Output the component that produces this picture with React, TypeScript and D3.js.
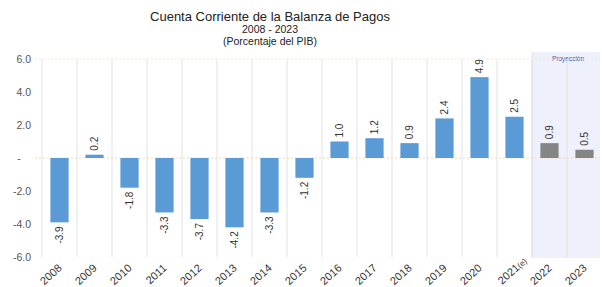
import React from "react";
import * as d3 from "d3";

const years = ["2008", "2009", "2010", "2011", "2012", "2013", "2014", "2015", "2016", "2017", "2018", "2019", "2020", "2021(e)", "2022", "2023"];
const values = [-3.9, 0.2, -1.8, -3.3, -3.7, -4.2, -3.3, -1.2, 1.0, 1.2, 0.9, 2.4, 4.9, 2.5, 0.9, 0.5];
const projected = ["2022", "2023"];
const yTicks = [6, 4, 2, 0, -2, -4, -6];

const W = 602;
const H = 287;

// hyphen minus like the original, not d3's unicode minus
const fmt = (v: number) => v.toFixed(1);

const App = () => {
  const x = d3.scaleBand<string>().domain(years).range([42, 602]).padding(0);
  const y = d3.scaleLinear().domain([-6, 6]).range([257, 59]);
  const bw = x.bandwidth() * 0.52;
  const projStart = x(projected[0]) as number;

  return (
    <div style={{ position: "fixed", left: 0, top: 0 }}>
      <svg width={W} height={H} style={{ display: "block", background: "#fff" }} fontFamily="Liberation Sans, Arial, sans-serif">
        {/* projection shading */}
        <rect x={projStart} y={52} width={W - projStart - 2} height={206} fill="#eef0fb" />
        <line x1={projStart} x2={projStart} y1={52} y2={258} stroke="#dde0ee" />
        <text x={projStart + 36} y={61} fontSize={6.5} fill="#3a55a4" textAnchor="middle">Proyección</text>

        {/* title */}
        <text x={270} y={21} textAnchor="middle" fontSize={13} fill="#222">Cuenta Corriente de la Balanza de Pagos</text>
        <text x={270} y={33} textAnchor="middle" fontSize={10.5} fill="#222">2008 - 2023</text>
        <text x={270} y={45} textAnchor="middle" fontSize={10.5} fill="#222">(Porcentaje del PIB)</text>

        {/* vertical gridlines */}
        {years.map((yr) => (
          <line key={yr} x1={x(yr)} x2={x(yr)} y1={y(6)} y2={y(-6)} stroke="#e3e3e3" strokeWidth={1} />
        ))}
        <line x1={35} x2={600} y1={y(6)} y2={y(6)} stroke="#f8e6d2" strokeDasharray="2,2" />
        <line x1={35} x2={600} y1={y(0)} y2={y(0)} stroke="#f4d6b4" strokeDasharray="2,2" />

        {/* y tick labels */}
        {yTicks.map((t) => (
          <text key={t} x={t === 0 ? 19 : 31} y={y(t) + 4} textAnchor={t === 0 ? "middle" : "end"} fontSize={10.5} fill="#555">
            {t === 0 ? "-" : fmt(t)}
          </text>
        ))}

        {/* bars */}
        {years.map((yr, i) => {
          const v = values[i];
          const cx = (x(yr) as number) + x.bandwidth() / 2;
          const isProj = projected.includes(yr);
          return (
            <rect
              key={yr}
              x={cx - bw / 2}
              y={Math.min(y(v), y(0))}
              width={bw}
              height={Math.abs(y(v) - y(0))}
              fill={isProj ? "#858585" : "#5b9bd5"}
            />
          );
        })}

        {/* value labels */}
        {years.map((yr, i) => {
          const v = values[i];
          const cx = (x(yr) as number) + x.bandwidth() / 2;
          const ly = v >= 0 ? y(v) - 4 : y(v) + 4;
          return (
            <text
              key={yr}
              transform={`translate(${cx + 3.5},${ly}) rotate(-90)`}
              textAnchor={v >= 0 ? "start" : "end"}
              fontSize={10}
              fill="#333"
            >
              {fmt(v)}
            </text>
          );
        })}

        {/* x labels */}
        {years.map((yr) => {
          const cx = (x(yr) as number) + x.bandwidth() / 2;
          const est = yr.endsWith("(e)");
          const tx = est ? cx + 13 : cx + 3;
          const ty = est ? 262 : 269;
          return (
            <text key={yr} transform={`translate(${tx},${ty}) rotate(-42)`} textAnchor="end" fontSize={11} fill="#333">
              {est ? (
                <>
                  {yr.slice(0, 4)}
                  <tspan fontSize={8}>{yr.slice(4)}</tspan>
                </>
              ) : (
                yr
              )}
            </text>
          );
        })}
      </svg>
    </div>
  );
};

export default App;
